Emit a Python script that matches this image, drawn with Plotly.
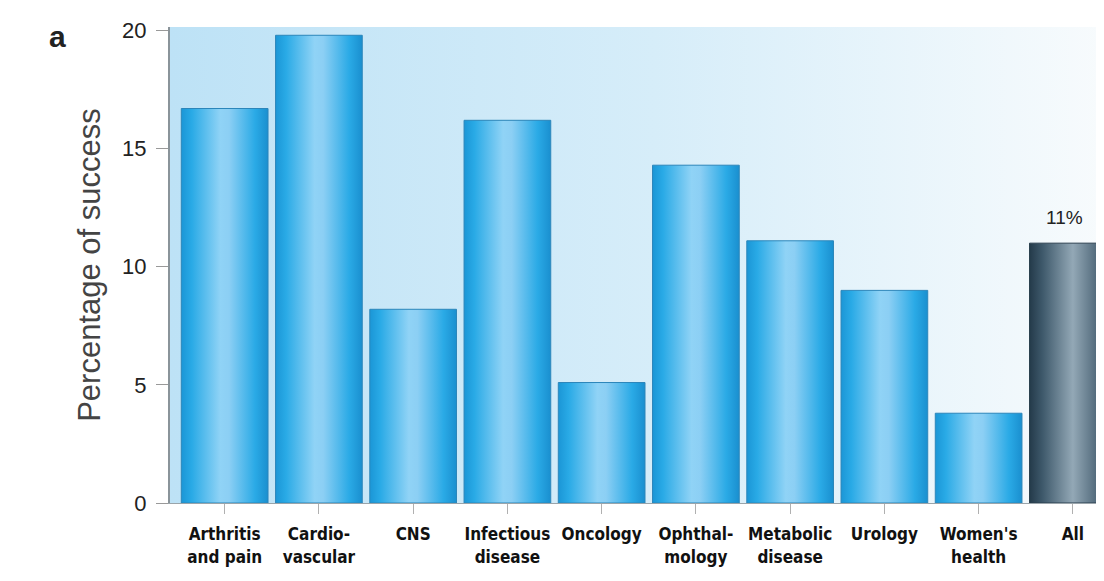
import plotly.graph_objects as go

categories = ["Arthritis<br>and pain", "Cardio-<br>vascular", "CNS", "Infectious<br>disease",
              "Oncology", "Ophthal-<br>mology", "Metabolic<br>disease", "Urology",
              "Women's<br>health", "All"]
success_pct = [16.7, 19.8, 8.2, 16.2, 5.1, 14.3, 11.1, 9.0, 3.8, 11.0]
y_ticks = [0, 5, 10, 15, 20]
all_label = "11%"

idx = list(range(len(categories)))
bar_w = 0.92
x_lo, x_hi = -0.58, 9.5

blue_scale = [[0, "#1b96d6"], [0.12, "#29aae6"], [0.45, "#90d3f6"], [0.55, "#8ccff4"],
              [0.85, "#2aaae6"], [1, "#1a8fcf"]]
dark_scale = [[0, "#243a4a"], [0.15, "#3e596b"], [0.5, "#93a8b6"], [0.85, "#40596b"], [1, "#22384a"]]

fig = go.Figure()

# plot-area background gradient
fig.add_trace(go.Scatter(
    x=[x_lo, x_hi + 0.2, x_hi + 0.2, x_lo, x_lo], y=[0, 0, 20.15, 20.15, 0],
    mode="lines", line=dict(width=0), fill="toself",
    fillgradient=dict(type="horizontal",
                      colorscale=[[0, "#bde2f6"], [0.5, "#d6edf9"], [1, "#fafcfd"]]),
    hoverinfo="skip", showlegend=False))

# base bars
fig.add_trace(go.Bar(
    x=idx, y=success_pct, width=bar_w,
    marker=dict(color=["#3aaee5"] * 9 + ["#4a6374"], line=dict(width=0)),
    showlegend=False, hoverinfo="x+y"))

# cylindrical shading overlays derived from bar data
for i, v in zip(idx, success_pct):
    x0, x1 = i - bar_w / 2, i + bar_w / 2
    fig.add_trace(go.Scatter(
        x=[x0, x1, x1, x0, x0], y=[0, 0, v, v, 0],
        mode="lines", line=dict(width=1, color="#2c86ba" if i < 9 else "#2a3f4e"),
        fill="toself",
        fillgradient=dict(type="horizontal", colorscale=blue_scale if i < 9 else dark_scale),
        hoverinfo="skip", showlegend=False))

fig.add_annotation(x=idx[-1], y=success_pct[-1], text=all_label, showarrow=False,
                   yshift=26, xshift=-8, font=dict(family="Liberation Sans, Arial, sans-serif",
                                                   size=19, color="#222"))
fig.add_annotation(x=0, y=1, xref="paper", yref="paper", text="<b>a</b>", showarrow=False,
                   xshift=-123, yshift=9, font=dict(family="Liberation Sans, Arial, sans-serif",
                                                    size=30, color="#222"))

fig.update_layout(
    width=1112, height=581,
    margin=dict(l=162, r=0, t=19, b=86),
    paper_bgcolor="white", plot_bgcolor="white",
    xaxis=dict(range=[x_lo, x_hi], tickmode="array", tickvals=idx, ticktext=categories,
               showgrid=False, zeroline=False, showline=True, linecolor="#9aa4aa", linewidth=1,
               ticks="outside", ticklen=10, tickcolor="#b0b0b0", ticklabelstandoff=6,
               tickfont=dict(family="Liberation Sans Narrow, DejaVu Sans Condensed, Arial Narrow, sans-serif",
                             size=17, color="#111", weight="bold")),
    yaxis=dict(range=[0, 20.15], tickmode="array", tickvals=y_ticks,
               showgrid=False, zeroline=False, showline=True, linecolor="#8a949a", linewidth=2,
               ticks="outside", ticklen=12, tickcolor="#999", ticklabelstandoff=5,
               tickfont=dict(family="Liberation Sans, Arial, sans-serif", size=22, color="#222"),
               title=dict(text="Percentage of success", standoff=12,
                          font=dict(family="Liberation Sans, Arial, sans-serif", size=31,
                                    color="#444"))),
)

fig.write_html("out.html")
